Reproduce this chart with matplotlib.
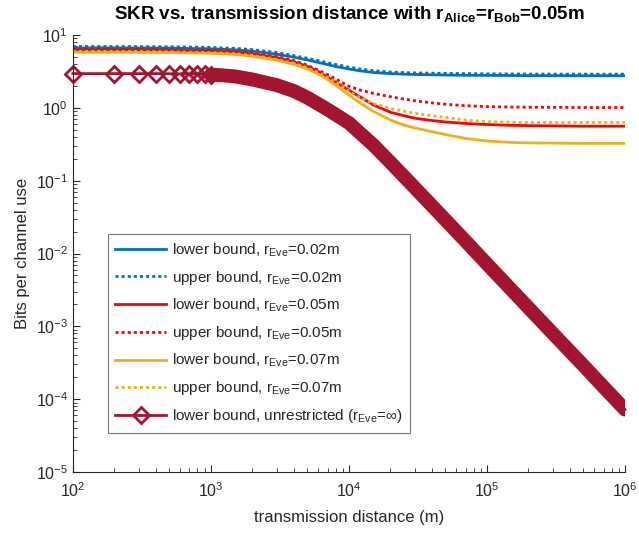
import matplotlib
matplotlib.use("Agg")
import matplotlib.pyplot as plt
from matplotlib.ticker import LogLocator, NullFormatter
import numpy as np

plt.rcParams['font.family'] = ['Liberation Sans', 'DejaVu Sans']
plt.rcParams['mathtext.fontset'] = 'custom'
plt.rcParams['mathtext.rm'] = 'Liberation Sans'
plt.rcParams['mathtext.it'] = 'Liberation Sans:italic'
plt.rcParams['mathtext.bf'] = 'Liberation Sans:bold'

# ---- data ----
dist = [100, 200, 500, 1000, 1500, 2000, 3000, 4000, 5000, 6000, 7000, 8000,
        10000, 12000, 15000, 20000, 25000, 30000, 40000, 50000, 70000,
        100000, 150000, 200000, 500000, 1000000]

lower_002 = [6.65, 6.65, 6.6, 6.45, 6.25, 6.0, 5.45, 4.95, 4.55, 4.2, 3.92, 3.7,
             3.42, 3.22, 3.06, 2.95, 2.9, 2.87, 2.84, 2.82, 2.8,
             2.79, 2.78, 2.77, 2.76, 2.76]
upper_002 = [6.95, 6.95, 6.9, 6.75, 6.55, 6.3, 5.75, 5.2, 4.8, 4.45, 4.15, 3.95,
             3.62, 3.42, 3.24, 3.1, 3.05, 3.02, 2.99, 2.97, 2.95,
             2.93, 2.92, 2.91, 2.9, 2.9]
lower_005 = [6.2, 6.2, 6.15, 6.0, 5.8, 5.5, 4.9, 4.3, 3.7, 3.15, 2.65, 2.25,
             1.75, 1.42, 1.1, 0.87, 0.78, 0.72, 0.67, 0.64, 0.61,
             0.59, 0.575, 0.57, 0.56, 0.56]
upper_005 = [6.35, 6.35, 6.3, 6.15, 5.95, 5.65, 5.05, 4.45, 3.85, 3.3, 2.85, 2.5,
             1.98, 1.76, 1.58, 1.42, 1.32, 1.25, 1.17, 1.12, 1.07,
             1.04, 1.025, 1.02, 1.01, 1.01]
lower_007 = [5.8, 5.8, 5.75, 5.6, 5.4, 5.1, 4.5, 3.95, 3.4, 2.9, 2.45, 2.05,
             1.5, 1.17, 0.9, 0.68, 0.58, 0.53, 0.47, 0.43, 0.38,
             0.35, 0.335, 0.33, 0.325, 0.325]
upper_007 = [5.95, 5.95, 5.9, 5.75, 5.55, 5.25, 4.65, 4.1, 3.55, 3.05, 2.6, 2.25,
             1.68, 1.38, 1.15, 0.98, 0.9, 0.84, 0.78, 0.74, 0.68,
             0.645, 0.635, 0.63, 0.63, 0.63]

dist_unr = [100, 200, 300, 400, 500, 600, 700, 800, 900, 1000, 1200, 1500, 2000,
            3000, 4000, 5000, 7000, 10000, 15000, 20000, 30000, 50000, 70000,
            100000, 200000, 300000, 500000, 700000, 1000000]
lower_unr = [2.95, 2.95, 2.95, 2.95, 2.94, 2.93, 2.92, 2.9, 2.88, 2.85, 2.8, 2.7,
             2.45, 2.05, 1.7, 1.38, 0.95, 0.62, 0.31, 0.178, 0.08, 0.029, 0.0148,
             0.0072, 0.0018, 8.0e-4, 2.9e-4, 1.47e-4, 7.2e-5]

labels = [r'lower bound, r$_{\mathrm{Eve}}$=0.02m',
          r'upper bound, r$_{\mathrm{Eve}}$=0.02m',
          r'lower bound, r$_{\mathrm{Eve}}$=0.05m',
          r'upper bound, r$_{\mathrm{Eve}}$=0.05m',
          r'lower bound, r$_{\mathrm{Eve}}$=0.07m',
          r'upper bound, r$_{\mathrm{Eve}}$=0.07m',
          r'lower bound, unrestricted (r$_{\mathrm{Eve}}$=∞)']

c_blue = '#0072BD'
c_red = '#FF0000'
c_yel = '#EDB120'
c_dred = '#A2142F'
dot = (0, (1.1, 1.1))

fig = plt.figure(figsize=(6.39, 5.36), dpi=100)
ax = fig.add_axes([0.114, 0.1194, 0.864, 0.8153])

lw = 2.0
h = []
h += ax.plot(dist, lower_002, color=c_blue, lw=lw, label=labels[0])
h += ax.plot(dist, upper_002, color=c_blue, lw=lw, ls=dot, label=labels[1])
h += ax.plot(dist, lower_005, color=c_red, lw=lw, label=labels[2])
h += ax.plot(dist, upper_005, color=c_red, lw=lw, ls=dot, label=labels[3])
h += ax.plot(dist, lower_007, color=c_yel, lw=lw, label=labels[4])
h += ax.plot(dist, upper_007, color=c_yel, lw=lw, ls=dot, label=labels[5])

du = np.array(dist_unr)
lu = np.array(lower_unr)
dense = du >= 1000
ax.plot(du[dense], lu[dense], color=c_dred, lw=10.0, solid_capstyle='round')
marked = [i for i, v in enumerate(dist_unr) if v <= 1000]
h += ax.plot(du, lu, color=c_dred, lw=lw, marker='D', markersize=8,
             markevery=marked, markerfacecolor='none', markeredgecolor=c_dred,
             markeredgewidth=2, label=labels[6], clip_on=False)

ax.set_xscale('log')
ax.set_yscale('log')
ax.set_xlim(1e2, 1e6)
ax.set_ylim(1e-5, 1e1)

ax.yaxis.set_major_locator(LogLocator(base=10, numticks=20))
ax.yaxis.set_minor_locator(LogLocator(base=10, subs=np.arange(2, 10), numticks=20))
ax.yaxis.set_minor_formatter(NullFormatter())
ax.xaxis.set_minor_locator(LogLocator(base=10, subs=np.arange(2, 10), numticks=20))
ax.xaxis.set_minor_formatter(NullFormatter())

axc = '#262626'
for s in ['top', 'right']:
    ax.spines[s].set_visible(False)
for s in ['left', 'bottom']:
    ax.spines[s].set_color(axc)
    ax.spines[s].set_linewidth(0.8)
ax.tick_params(which='both', direction='in', colors=axc, labelsize=11.5)
ax.tick_params(which='major', length=5)
ax.tick_params(which='minor', length=3)
ax.tick_params(axis='x', which='major', pad=7)
for lab in ax.get_xticklabels() + ax.get_yticklabels():
    lab.set_color(axc)

ax.set_xlabel('transmission distance (m)', fontsize=12, color=axc, labelpad=7)
ax.set_ylabel('Bits per channel use', fontsize=12, color=axc)
fig.text(0.5462, 1 - 19.5 / 536,
         r'SKR vs. transmission distance with r$_{\mathbf{Alice}}$=r$_{\mathbf{Bob}}$=0.05m',
         fontsize=13.5, fontweight='bold', color='black', ha='center', va='baseline')

leg = ax.legend(handles=h, loc='upper left', bbox_to_anchor=(0.0634, 0.545),
                fontsize=11, handlelength=3.3, handletextpad=0.4,
                labelspacing=0.65, borderpad=0.5, borderaxespad=0,
                frameon=True, fancybox=False, edgecolor='#555555')
leg.get_frame().set_linewidth(0.8)
for t in leg.get_texts():
    t.set_color(axc)

fig.savefig('out.png', dpi=100)
